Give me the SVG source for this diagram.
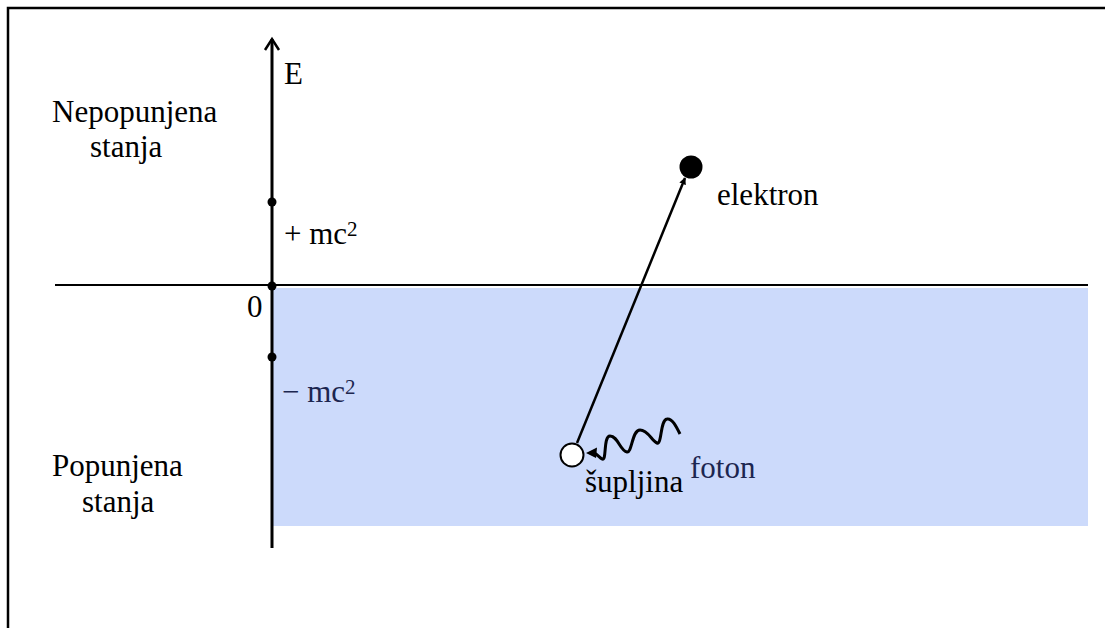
<svg xmlns="http://www.w3.org/2000/svg" width="1105" height="628" viewBox="0 0 1105 628">
<style>
.ax{stroke:#000;fill:none}
.t{font-family:"Liberation Serif","DejaVu Serif",serif;font-size:31px}
</style>
<defs>
<marker id="ah" viewBox="0 0 10 10" refX="9" refY="5" markerWidth="7" markerHeight="7" orient="auto" markerUnits="userSpaceOnUse">
<path d="M0,0 L10,5 L0,10 z" fill="#000"/>
</marker>
</defs>
<rect width="1105" height="628" fill="#fff"/>
<g id="frame">
<path d="M8,628 V8 H1105" class="ax" stroke-width="2.5"/>
</g>
<g id="filled-region">
<rect x="273" y="288" width="815" height="238" fill="#ccdafb"/>
</g>
<g id="axes">
<line x1="55" y1="285" x2="1088" y2="285" class="ax" stroke-width="2"/>
<line x1="272" y1="39" x2="272" y2="548" class="ax" stroke-width="3"/>
<path d="M265,50 L272,39 L279,50" class="ax" stroke-width="2.5"/>
<circle cx="272" cy="202" r="4.5" fill="#000"/>
<circle cx="272" cy="286" r="4.5" fill="#000"/>
<circle cx="272" cy="357" r="4.5" fill="#000"/>
</g>
<g class="t" fill="#000">
<g id="labels">
<text x="284" y="84">E</text>
<text x="52" y="122">Nepopunjena</text>
<text x="90" y="157">stanja</text>
<text x="284" y="244">+ mc<tspan font-size="21" dy="-8">2</tspan></text>
<text x="247" y="317">0</text>
<text x="282" y="402" fill="#1c2650">− mc<tspan font-size="21" dy="-8">2</tspan></text>
<text x="52" y="476">Popunjena</text>
<text x="82" y="512">stanja</text>
</g>
<g id="electron">
<circle cx="691" cy="167" r="11.5" fill="#000"/>
<text x="717" y="205">elektron</text>
</g>
<g id="hole">
<circle cx="572" cy="455" r="11.5" fill="#fff" stroke="#000" stroke-width="2"/>
<text x="585" y="492">šupljina</text>
</g>
<g id="photon">
<text x="690" y="478" fill="#1c2650">foton</text>
</g>
</g>
<g id="connectors">
<line x1="577" y1="443" x2="685" y2="178" stroke="#000" stroke-width="2.5" marker-end="url(#ah)"/>
<path d="M680,434 C676,426 672,418 667,419 C660,420 662,445 657,443 C652,441 648,430 640,430 C632,430 632,453 627,452 C620,451 618,436 610,436 C603,436 607,462 602,459 C599,457 597,454 594,453" fill="none" stroke="#000" stroke-width="3"/>
<path d="M586,453 L597,447.5 L596,458 z" fill="#000"/>
</g>
</svg>
